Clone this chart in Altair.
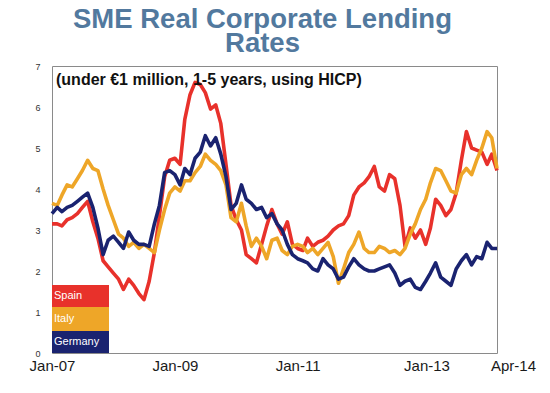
import altair as alt
import pandas as pd

months = pd.date_range("2007-01-01", periods=88, freq="MS")

spain = [3.15, 3.15, 3.1, 3.25, 3.3, 3.4, 3.55, 3.7, 3.2, 2.8,
         2.25, 2.1, 1.95, 1.8, 1.55, 1.8, 1.65, 1.45, 1.3, 1.75,
         2.45, 3.35, 4.3, 4.7, 4.75, 4.6, 5.7, 6.3, 6.6, 6.55,
         6.35, 5.95, 6.05, 5.6, 4.6, 3.6, 3.25, 3.0, 2.4, 2.3,
         2.2, 2.65, 3.1, 3.5, 3.15, 2.9, 3.2, 2.65, 2.55, 2.5,
         2.8, 2.6, 2.7, 2.75, 2.85, 3.0, 3.1, 3.15, 3.35, 3.85,
         4.05, 4.15, 4.3, 4.55, 4.05, 3.95, 4.35, 4.25, 3.6, 2.6,
         3.05, 2.8, 3.0, 2.65, 3.05, 3.75, 3.6, 3.35, 3.5, 3.9,
         4.7, 5.4, 5.0, 4.95, 4.9, 4.6, 4.85, 4.45]

italy = [3.65, 3.6, 3.85, 4.1, 4.05, 4.25, 4.45, 4.7, 4.5, 4.45,
         4.0, 3.6, 3.25, 2.9, 2.8, 2.6, 2.7, 2.55, 2.65, 2.55,
         2.45, 3.0, 3.5, 3.9, 4.05, 3.95, 4.2, 4.2, 4.4, 4.55,
         4.85, 4.7, 4.6, 4.45, 4.1, 3.3, 3.2, 3.65, 3.1, 2.6,
         2.8, 2.6, 2.3, 2.75, 2.8, 2.5, 2.4, 2.6, 2.65, 2.6,
         2.45, 2.55, 2.4, 2.55, 2.7, 2.35, 1.7, 2.05, 2.45, 2.65,
         2.95, 2.55, 2.45, 2.45, 2.6, 2.55, 2.45, 2.5, 2.4, 2.55,
         2.9, 3.15, 3.5, 3.75, 4.15, 4.5, 4.45, 4.2, 3.95, 3.9,
         4.35, 4.5, 4.35, 4.7, 5.0, 5.4, 5.25, 4.5]

germany = [3.4, 3.55, 3.45, 3.55, 3.6, 3.7, 3.8, 3.9, 3.55, 3.05,
           2.4, 2.75, 2.85, 2.7, 2.55, 2.95, 2.75, 2.65, 2.65, 2.6,
           3.15, 3.6, 4.4, 4.45, 4.35, 4.1, 4.5, 4.35, 4.75, 4.9,
           5.3, 5.05, 5.25, 4.85, 4.3, 3.5, 3.65, 4.1, 3.75, 3.65,
           3.5, 3.55, 3.3, 3.4, 3.15, 3.0, 2.65, 2.4, 2.3, 2.25,
           2.2, 2.05, 2.0, 2.3, 2.15, 2.05, 1.8, 1.85, 2.1, 2.3,
           2.15, 2.05, 2.0, 2.0, 2.05, 2.1, 2.15, 1.95, 1.65, 1.75,
           1.8, 1.6, 1.55, 1.75, 1.95, 2.2, 1.85, 1.75, 1.65, 2.05,
           2.25, 2.4, 2.15, 2.35, 2.3, 2.7, 2.55, 2.55]

countries = ["Spain", "Italy", "Germany"]
colors = ["#e8312b", "#eea628", "#1a2370"]
tick_dates = ["2007-01-01", "2009-01-01", "2011-01-01", "2013-01-01", "2014-04-01"]
y_ticks = [0, 1, 2, 3, 4, 5, 6, 7]
note = "(under €1 million, 1-5 years, using HICP)"
title_lines = ["SME Real Corporate Lending", "Rates"]

series = {"Spain": spain, "Italy": italy, "Germany": germany}
rows = []
for name in countries:
    for d, v in zip(months, series[name]):
        rows.append({"date": d, "value": v, "country": name})
df = pd.DataFrame(rows)

FONT = "Liberation Sans"

lines = alt.Chart(df).mark_line(strokeWidth=3.6, strokeJoin="round").encode(
    x=alt.X("date:T",
            scale=alt.Scale(domain=["2007-01-01", "2014-04-01"]),
            axis=alt.Axis(values=tick_dates, format="%b-%y", title=None,
                          labelFontSize=15, labelColor="#1a1a1a", labelFont=FONT,
                          domain=False, ticks=False, grid=False, labelPadding=5,
                          labelFlush=False,
                          labelOffset={"condition": [
                              {"test": "month(datum.value) == 3", "value": 16},
                              {"test": "year(datum.value) == 2013", "value": 6}],
                              "value": 0})),
    y=alt.Y("value:Q", scale=alt.Scale(domain=[0, 7], nice=False),
            axis=alt.Axis(values=y_ticks, title=None, labelFontSize=9,
                          labelColor="#333", labelFont=FONT, domain=False,
                          ticks=False, grid=False, labelPadding=12)),
    color=alt.Color("country:N", scale=alt.Scale(domain=countries, range=colors),
                    legend=None),
    order=alt.Order("country_order:Q"),
    detail="country:N",
).transform_calculate(
    country_order="datum.country == 'Spain' ? 0 : (datum.country == 'Italy' ? 1 : 2)"
)

note_layer = alt.Chart(pd.DataFrame({"t": [note]})).mark_text(
    align="left", baseline="middle", fontSize=16, fontWeight="bold",
    font=FONT, color="#111"
).encode(x=alt.value(4), y=alt.value(14), text="t:N")

legend_layers = []
box_tops = [219, 241, 265]
box_bottoms = [241, 265, 287]
for name, col, t, b in zip(countries, colors, box_tops, box_bottoms):
    ld = pd.DataFrame({"t": [name]})
    legend_layers.append(
        alt.Chart(ld).mark_rect(color=col).encode(
            x=alt.value(0), x2=alt.value(57), y=alt.value(t), y2=alt.value(b))
    )
    legend_layers.append(
        alt.Chart(ld).mark_text(align="left", baseline="middle", fontSize=11,
                                font=FONT, color="white").encode(
            x=alt.value(2), y=alt.value((t + b) / 2), text="t:N")
    )

chart = alt.layer(lines, note_layer, *legend_layers).properties(
    width=445, height=287,
    padding={"left": 44, "top": 58, "right": 45, "bottom": 32},
    autosize=alt.AutoSizeParams(type="none"),
    title=alt.TitleParams(text=title_lines, fontSize=27.5, font=FONT,
                          fontWeight="bold", color="#52799e",
                          lineHeight=24, anchor="middle", dx=-12, offset=8,
                          dy=25, baseline="alphabetic"),
    background="white",
).configure_view(stroke="#8a8a8a", strokeWidth=1)

chart.save("out.html", embed_options={"renderer": "svg", "actions": False})
